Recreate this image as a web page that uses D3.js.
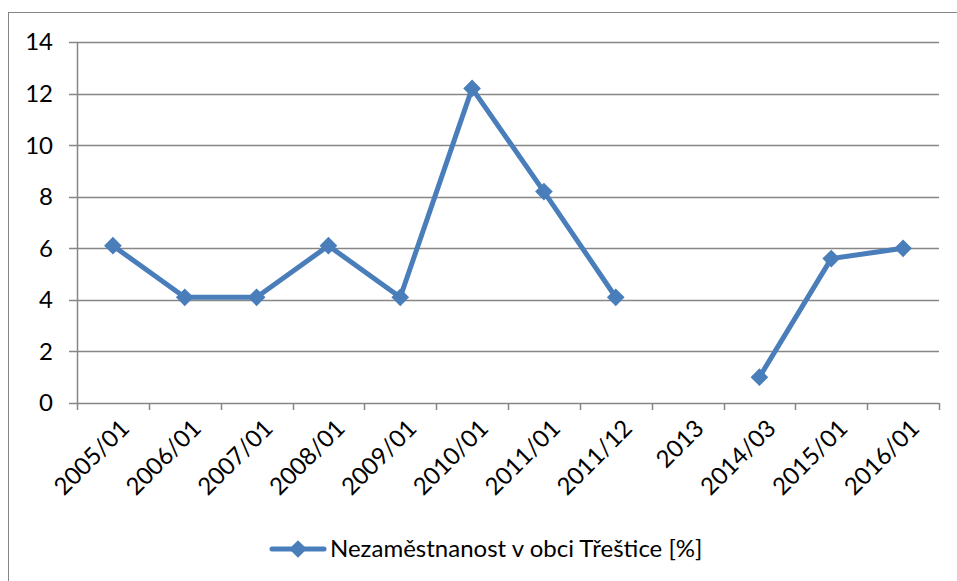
<!DOCTYPE html>
<html><head><meta charset="utf-8">
<script src="https://cdn.jsdelivr.net/npm/d3@7"></script>
<style>body{margin:0;background:#fff}svg{display:block}</style>
</head><body>
<svg id="c" width="957" height="581"></svg>
<script>
const categories = ["2005/01","2006/01","2007/01","2008/01","2009/01","2010/01","2011/01","2011/12","2013","2014/03","2015/01","2016/01"];
const values = [6.1, 4.1, 4.1, 6.1, 4.1, 12.2, 8.2, 4.1, null, 1.0, 5.6, 6.0];
const yTicks = [0, 2, 4, 6, 8, 10, 12, 14];
const seriesName = "Nezaměstnanost v obci Třeštice [%]";

const svg = d3.select("#c");
const font = "Lato, 'Open Sans', sans-serif";
const fs = 24;
const blue = "#4a7ebb";
const grid = "#868686";

svg.append("rect").attr("x", 8.5).attr("y", 12.5).attr("width", 960).attr("height", 580)
  .attr("fill", "none").attr("stroke", grid).attr("stroke-width", 1);

const x = d3.scaleBand().domain(categories).range([77, 939]);
const y = d3.scaleLinear().domain([0, 14]).range([403, 42]);

// gridlines
svg.append("g").selectAll("line").data(yTicks).join("line")
  .attr("x1", 69).attr("x2", 939).attr("y1", d => Math.round(y(d)) + 0.5).attr("y2", d => Math.round(y(d)) + 0.5)
  .attr("stroke", grid).attr("stroke-width", 1.5);

// y axis line
svg.append("line").attr("x1", 77.5).attr("x2", 77.5).attr("y1", 42).attr("y2", 403)
  .attr("stroke", grid).attr("stroke-width", 1.5);

// x ticks
const edges = categories.map(c => x(c)).concat([x.range()[1]]);
svg.append("g").selectAll("line").data(edges).join("line")
  .attr("x1", d => Math.round(d) + 0.5).attr("x2", d => Math.round(d) + 0.5)
  .attr("y1", 403).attr("y2", 410).attr("stroke", grid).attr("stroke-width", 1.5);

// y labels
svg.append("g").selectAll("text").data(yTicks).join("text")
  .attr("x", 53).attr("y", d => y(d)).attr("dy", "0.35em")
  .attr("text-anchor", "end").attr("font-family", font).attr("font-size", fs).attr("fill", "#000")
  .text(d => d);

// x labels
svg.append("g").selectAll("text").data(categories).join("text")
  .attr("transform", d => `translate(${x(d) + x.bandwidth() / 2 + 6},${418}) rotate(-45)`)
  .attr("text-anchor", "end").attr("dy", "0.7em")
  .attr("font-family", font).attr("font-size", fs).attr("fill", "#000")
  .text(d => d);

// line
const pts = categories.map((c, i) => ({c, v: values[i]}));
const line = d3.line().defined(d => d.v !== null)
  .x(d => x(d.c) + x.bandwidth() / 2).y(d => y(d.v));
svg.append("path").datum(pts).attr("d", line).attr("fill", "none")
  .attr("stroke", blue).attr("stroke-width", 5).attr("stroke-linejoin", "round").attr("stroke-linecap", "round");

const diamond = d3.symbol().type(d3.symbolDiamond2).size(200);
svg.append("g").selectAll("path").data(pts.filter(d => d.v !== null)).join("path")
  .attr("d", diamond)
  .attr("transform", d => `translate(${x(d.c) + x.bandwidth() / 2},${y(d.v)})`)
  .attr("fill", blue);

// legend
const lg = svg.append("g");
lg.append("line").attr("x1", 272).attr("x2", 324).attr("y1", 549).attr("y2", 549)
  .attr("stroke", blue).attr("stroke-width", 5).attr("stroke-linecap", "round");
lg.append("path").attr("d", diamond).attr("transform", "translate(298,549)").attr("fill", blue);
lg.append("text").attr("x", 330).attr("y", 549).attr("dy", "0.35em")
  .attr("font-family", font).attr("font-size", fs).attr("fill", "#000").text(seriesName);
</script>
</body></html>
